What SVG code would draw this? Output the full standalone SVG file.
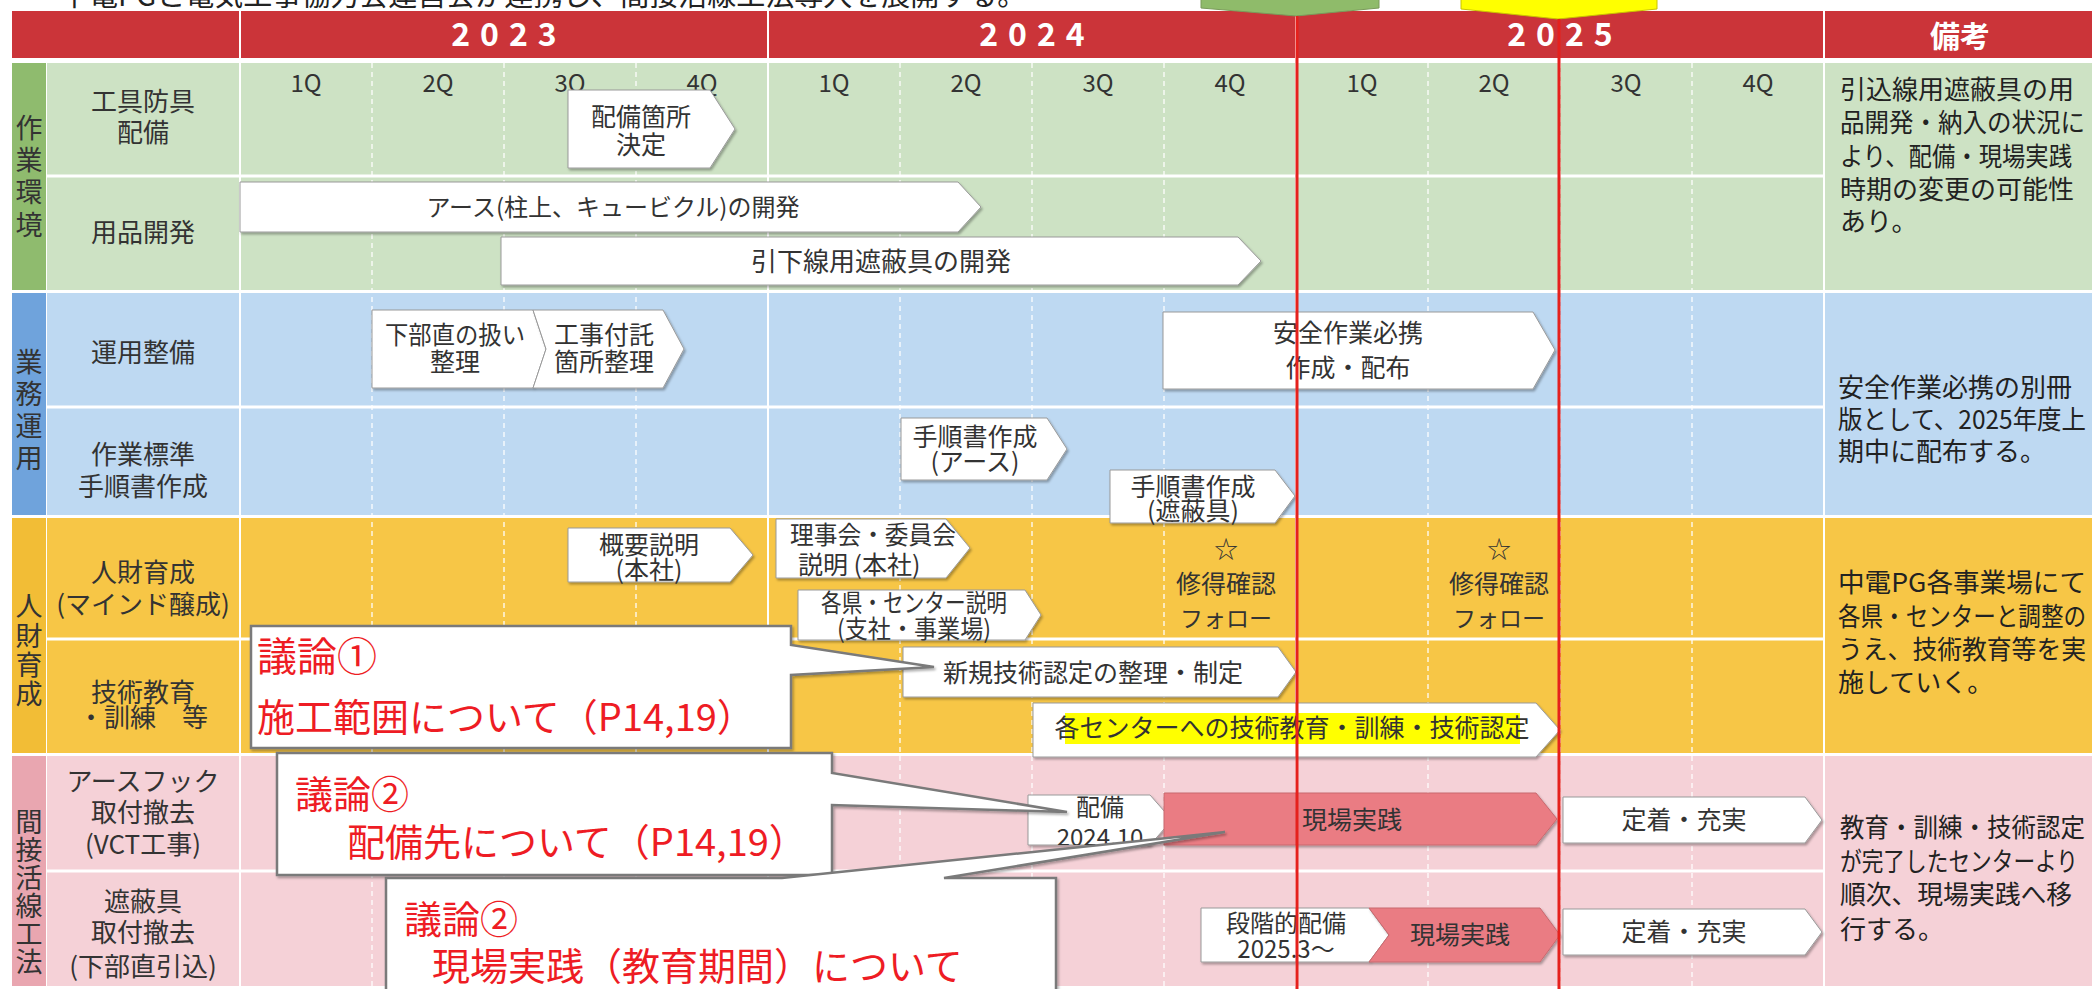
<svg xmlns="http://www.w3.org/2000/svg" width="2092" height="989" viewBox="0 0 2092 989">
<defs>
<filter id="sh" x="-5%" y="-10%" width="115%" height="130%"><feDropShadow dx="1.5" dy="2" stdDeviation="1.2" flood-color="#000" flood-opacity="0.3"/></filter>
<clipPath id="c14"><rect x="1028" y="795" width="150" height="50"/></clipPath>
</defs>
<style>
text{font-family:'Noto Sans CJK JP','Noto Sans',sans-serif}
.lab{font-size:26px;fill:#333;text-anchor:middle}
.cat{font-size:27px;fill:#333;text-anchor:middle}
.q{font-size:24px;fill:#333;text-anchor:middle}
.yr{font-size:32px;font-weight:bold;fill:#fff;text-anchor:middle;letter-spacing:10px}
.hd{font-size:30px;font-weight:bold;fill:#fff;text-anchor:middle}
.note{font-size:26px;fill:#222}
.bt{font-size:25px;fill:#333;text-anchor:middle}
.box{fill:#fff;stroke:#9a9a9a;stroke-width:1;filter:url(#sh)}
.pk{fill:#ea7c83;stroke:#c8686e;stroke-width:1;filter:url(#sh)}
.cl{fill:#fff;stroke:#7a7a7a;stroke-width:2.5;filter:url(#sh)}
.ct{font-size:38px;fill:#ee1c24}
.rl{stroke:#e5211d;stroke-width:3}
.gd{stroke:#fff;stroke-width:1.5;stroke-dasharray:5 4;opacity:.85}
.gs{stroke:#fff;stroke-width:2}
.rd{stroke:#fff;stroke-width:3}
</style>
<rect width="2092" height="989" fill="#fff"/>
<text x="60" y="6" style="font-size:29px;fill:#222">中電PGと電気工事協力会運営会が連携し、間接活線工法導入を展開する。</text>

<g id="header">
<rect x="12" y="11" width="2080" height="47" fill="#cb3439"/>
<line x1="240" y1="11" x2="240" y2="58" class="gs"/>
<line x1="768" y1="11" x2="768" y2="58" class="gs"/>
<line x1="1296" y1="11" x2="1296" y2="58" class="gs"/>
<line x1="1824" y1="11" x2="1824" y2="58" class="gs"/>
<text x="509" y="46" class="yr">2023</text>
<text x="1037" y="46" class="yr">2024</text>
<text x="1565" y="46" class="yr">2025</text>
<text x="1960" y="47" class="hd">備考</text>
</g>

<g id="bands">
<rect x="12" y="63" width="34" height="227" fill="#8fbb6e"/>
<rect x="47" y="63" width="2045" height="227" fill="#cde2c4"/>
<rect x="12" y="293" width="34" height="222" fill="#6fa3dc"/>
<rect x="47" y="293" width="2045" height="222" fill="#bed9f2"/>
<rect x="12" y="518" width="34" height="235" fill="#f2bd36"/>
<rect x="47" y="518" width="2045" height="235" fill="#f7c646"/>
<rect x="12" y="756" width="34" height="230" fill="#e9a6b0"/>
<rect x="47" y="756" width="2045" height="230" fill="#f5d1d7"/>
</g>

<g id="grid">
<line x1="47" y1="176" x2="1823" y2="176" class="rd"/>
<line x1="47" y1="407" x2="1823" y2="407" class="rd"/>
<line x1="47" y1="639" x2="1823" y2="639" class="rd"/>
<line x1="47" y1="871" x2="1823" y2="871" class="rd"/>
<line x1="240" y1="63" x2="240" y2="986" class="gs"/>
<line x1="768" y1="63" x2="768" y2="986" class="gs"/>
<line x1="1296" y1="63" x2="1296" y2="986" class="gs"/>
<line x1="1824" y1="63" x2="1824" y2="986" class="gs"/>
<line x1="372" y1="63" x2="372" y2="986" class="gd"/>
<line x1="504" y1="63" x2="504" y2="986" class="gd"/>
<line x1="636" y1="63" x2="636" y2="986" class="gd"/>
<line x1="900" y1="63" x2="900" y2="986" class="gd"/>
<line x1="1032" y1="63" x2="1032" y2="986" class="gd"/>
<line x1="1164" y1="63" x2="1164" y2="986" class="gd"/>
<line x1="1428" y1="63" x2="1428" y2="986" class="gd"/>
<line x1="1560" y1="63" x2="1560" y2="986" class="gd"/>
<line x1="1692" y1="63" x2="1692" y2="986" class="gd"/>
</g>

<g id="quarters">
<text x="306" y="92" class="q">1Q</text><text x="438" y="92" class="q">2Q</text><text x="570" y="92" class="q">3Q</text><text x="702" y="92" class="q">4Q</text>
<text x="834" y="92" class="q">1Q</text><text x="966" y="92" class="q">2Q</text><text x="1098" y="92" class="q">3Q</text><text x="1230" y="92" class="q">4Q</text>
<text x="1362" y="92" class="q">1Q</text><text x="1494" y="92" class="q">2Q</text><text x="1626" y="92" class="q">3Q</text><text x="1758" y="92" class="q">4Q</text>
</g>

<g id="categories">
<text x="29" y="138" class="cat">作</text><text x="29" y="170" class="cat">業</text><text x="29" y="202" class="cat">環</text><text x="29" y="235" class="cat">境</text>
<text x="29" y="372" class="cat">業</text><text x="29" y="404" class="cat">務</text><text x="29" y="436" class="cat">運</text><text x="29" y="468" class="cat">用</text>
<text x="29" y="616" class="cat">人</text><text x="29" y="646" class="cat">財</text><text x="29" y="675" class="cat">育</text><text x="29" y="704" class="cat">成</text>
<text x="29" y="832" class="cat">間</text><text x="29" y="860" class="cat">接</text><text x="29" y="888" class="cat">活</text><text x="29" y="916" class="cat">線</text><text x="29" y="944" class="cat">工</text><text x="29" y="972" class="cat">法</text>
</g>

<g id="labels">
<text x="143" y="111" class="lab">工具防具</text><text x="143" y="142" class="lab">配備</text>
<text x="143" y="242" class="lab">用品開発</text>
<text x="143" y="362" class="lab">運用整備</text>
<text x="143" y="464" class="lab">作業標準</text><text x="143" y="496" class="lab">手順書作成</text>
<text x="143" y="582" class="lab">人財育成</text><text x="143" y="614" class="lab">(マインド醸成)</text>
<text x="143" y="702" class="lab">技術教育</text><text x="143" y="727" class="lab">・訓練　等</text>
<text x="143" y="791" class="lab">アースフック</text><text x="143" y="822" class="lab">取付撤去</text><text x="143" y="854" class="lab">(VCT工事)</text>
<text x="143" y="911" class="lab">遮蔽具</text><text x="143" y="942" class="lab">取付撤去</text><text x="143" y="976" class="lab">(下部直引込)</text>
</g>

<g id="notes">
<text x="1840" y="99" class="note">引込線用遮蔽具の用</text>
<text x="1840" y="132" class="note" textLength="245" lengthAdjust="spacingAndGlyphs">品開発・納入の状況に</text>
<text x="1840" y="166" class="note" textLength="232" lengthAdjust="spacingAndGlyphs">より、配備・現場実践</text>
<text x="1840" y="199" class="note">時期の変更の可能性</text>
<text x="1840" y="231" class="note">あり。</text>
<text x="1838" y="397" class="note">安全作業必携の別冊</text>
<text x="1838" y="429" class="note" textLength="248" lengthAdjust="spacingAndGlyphs">版として、2025年度上</text>
<text x="1838" y="461" class="note">期中に配布する。</text>
<text x="1838" y="592" class="note" textLength="248" lengthAdjust="spacingAndGlyphs">中電PG各事業場にて</text>
<text x="1838" y="626" class="note" textLength="248" lengthAdjust="spacingAndGlyphs">各県・センターと調整の</text>
<text x="1838" y="659" class="note" textLength="248" lengthAdjust="spacingAndGlyphs">うえ、技術教育等を実</text>
<text x="1838" y="692" class="note">施していく。</text>
<text x="1840" y="837" class="note" textLength="245" lengthAdjust="spacingAndGlyphs">教育・訓練・技術認定</text>
<text x="1840" y="871" class="note" textLength="238" lengthAdjust="spacingAndGlyphs">が完了したセンターより</text>
<text x="1840" y="904" class="note" textLength="232" lengthAdjust="spacingAndGlyphs">順次、現場実践へ移</text>
<text x="1840" y="939" class="note">行する。</text>
</g>

<g id="n-haibi-kettei"><polygon class="box" points="568,90 710,90 735,129 710,168 568,168"/><text x="641" y="126" class="bt">配備箇所</text><text x="641" y="154" class="bt">決定</text></g>
<g id="n-earth-dev"><polygon class="box" points="240,182 958,182 981,207 958,232 240,232"/><text x="613" y="216" class="bt" style="font-size:24px">アース(柱上、キュービクル)の開発</text></g>
<g id="n-shahei-dev"><polygon class="box" points="501,237 1238,237 1261,261 1238,285 501,285"/><text x="881" y="271" class="bt" style="font-size:26px">引下線用遮蔽具の開発</text></g>
<g id="n-kabu"><polygon class="box" points="372,310 533,310 546,349 533,388 372,388"/><text x="455" y="344" class="bt" textLength="140" lengthAdjust="spacingAndGlyphs">下部直の扱い</text><text x="455" y="371" class="bt">整理</text></g>
<g id="n-koji"><polygon class="box" points="533,310 663,310 684,349 663,388 533,388 546,349"/><text x="604" y="344" class="bt">工事付託</text><text x="604" y="371" class="bt">箇所整理</text></g>
<g id="n-anzen"><polygon class="box" points="1163,312 1533,312 1555,350 1533,389 1163,389"/><text x="1348" y="342" class="bt">安全作業必携</text><text x="1348" y="377" class="bt">作成・配布</text></g>
<g id="n-tejun-earth"><polygon class="box" points="901,418 1047,418 1067,449 1047,480 901,480"/><text x="975" y="446" class="bt">手順書作成</text><text x="975" y="471" class="bt">(アース)</text></g>
<g id="n-tejun-shahei"><polygon class="box" points="1110,470 1275,470 1295,496 1275,523 1110,523"/><text x="1193" y="496" class="bt">手順書作成</text><text x="1193" y="520" class="bt">(遮蔽具)</text></g>
<g id="n-gaiyo"><polygon class="box" points="568,528 730,528 753,555 730,582 568,582"/><text x="649" y="554" class="bt">概要説明</text><text x="649" y="579" class="bt">(本社)</text></g>
<g id="n-rijikai"><polygon class="box" points="776,519 946,519 970,548 946,578 776,578"/><text x="790" y="544" class="bt" style="text-anchor:start" textLength="166" lengthAdjust="spacingAndGlyphs">理事会・委員会</text><text x="798" y="574" class="bt" style="text-anchor:start">説明 (本社)</text></g>
<g id="n-kakuken"><polygon class="box" points="798,590 1025,590 1041,615 1025,640 798,640"/><text x="914" y="612" class="bt" textLength="186" lengthAdjust="spacingAndGlyphs">各県・センター説明</text><text x="914" y="638" class="bt" textLength="154" lengthAdjust="spacingAndGlyphs">(支社・事業場)</text></g>
<g id="n-shinki"><polygon class="box" points="903,647 1278,647 1296,672 1278,697 903,697"/><text x="1093" y="682" class="bt">新規技術認定の整理・制定</text></g>
<g id="n-kakucenter"><polygon class="box" points="1033,703 1536,703 1560,730 1536,757 1033,757"/><rect x="1065" y="713" width="455" height="31" fill="#ffff00"/><text x="1292" y="737" class="bt">各センターへの技術教育・訓練・技術認定</text></g>
<g id="n-shutoku1"><text x="1226" y="558" class="bt" style="font-size:24px">☆</text><text x="1226" y="593" class="bt">修得確認</text><text x="1226" y="627" class="bt" style="font-size:23px">フォロー</text></g>
<g id="n-shutoku2"><text x="1499" y="558" class="bt" style="font-size:24px">☆</text><text x="1499" y="593" class="bt">修得確認</text><text x="1499" y="627" class="bt" style="font-size:23px">フォロー</text></g>
<g id="n-haibi2024"><polygon class="box" points="1028,795 1150,795 1172,820 1150,845 1028,845"/><g clip-path="url(#c14)"><text x="1100" y="816" class="bt" style="font-size:24px">配備</text><text x="1100" y="846" class="bt" style="font-size:24px">2024.10</text></g></g>
<g id="n-genba1"><polygon class="pk" points="1164,793 1536,793 1557,819 1536,845 1164,845"/><text x="1352" y="829" class="bt">現場実践</text></g>
<g id="n-teichaku1"><polygon class="box" points="1563,797 1805,797 1822,820 1805,843 1563,843"/><text x="1684" y="829" class="bt">定着・充実</text></g>
<g id="n-dankai"><polygon class="box" points="1201,908 1369,908 1389,935 1369,962 1201,962"/><text x="1286" y="932" class="bt" style="font-size:24px">段階的配備</text><text x="1286" y="958" class="bt" style="font-size:24px">2025.3〜</text></g>
<g id="n-genba2"><polygon class="pk" points="1369,908 1540,908 1560,935 1540,962 1369,962 1389,935"/><text x="1460" y="944" class="bt">現場実践</text></g>
<g id="n-teichaku2"><polygon class="box" points="1563,909 1805,909 1822,932 1805,955 1563,955"/><text x="1684" y="941" class="bt">定着・充実</text></g>

<g id="n-milestones">
<polygon points="1201,-4 1379,-4 1379,8 1296,16 1201,8" fill="#8fbb6a" stroke="#7a9a5a" stroke-width="1"/>
<polygon points="1461,-4 1657,-4 1657,9 1558,19 1461,9" fill="#ffff00" stroke="#c9c200" stroke-width="1"/>
</g>

<g id="connectors">
<line x1="1297" y1="16" x2="1297" y2="989" class="rl"/>
<line x1="1559" y1="19" x2="1559" y2="989" class="rl"/>
</g>

<g id="callout1"><path class="cl" d="M251,626 H791 V645 L934,667 L791,675 V748 H251 Z"/><text x="257" y="671" class="ct" style="font-size:40px">議論①</text><text x="257" y="731" class="ct">施工範囲について（P14,19）</text></g>
<g id="callout2"><path class="cl" d="M277,753 H832 V773 L1067,812 L832,805 V875 H277 Z"/><text x="295" y="808" class="ct">議論②</text><text x="347" y="856" class="ct">配備先について（P14,19）</text></g>
<g id="callout3"><path class="cl" d="M386,878 H782 L1225,832 L944,878 H1056 V995 H386 Z"/><text x="404" y="933" class="ct">議論②</text><text x="432" y="980" class="ct">現場実践（教育期間）について</text></g>
</svg>
